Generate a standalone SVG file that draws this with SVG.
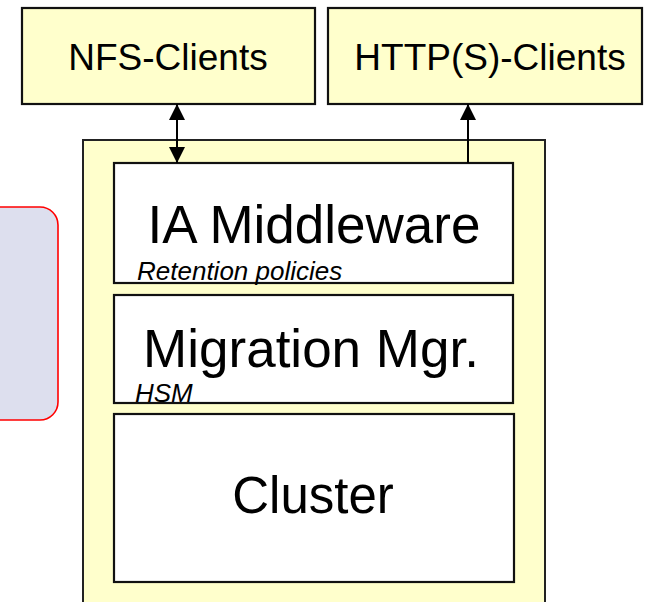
<svg xmlns="http://www.w3.org/2000/svg" width="646" height="602" viewBox="0 0 646 602">
<style>
.client{fill:#FFFFCC;stroke:#111;stroke-width:2.2}
.layer{fill:#FFFFFF;stroke:#111;stroke-width:2.2}
.cont{fill:#FFFFCC;stroke:#222;stroke-width:2}
.t{font-family:"Liberation Sans",Arial,sans-serif;fill:#000}
.sub{font-family:"Liberation Sans",Arial,sans-serif;font-style:italic;font-size:26px;fill:#000}
.conn{stroke:#000;stroke-width:2;fill:none}
</style>
<defs>
<marker id="ah" viewBox="0 0 10 10" refX="10" refY="5" markerWidth="8" markerHeight="8" markerUnits="strokeWidth" orient="auto-start-reverse">
<path d="M0,0 L10,5 L0,10 Z" fill="#000"/>
</marker>
</defs>
<rect width="646" height="602" fill="#FFFFFF"/>
<g id="side-panel">
<rect x="-20" y="207" width="78" height="213" rx="18" ry="18" fill="#DDDFEE" stroke="#FF0000" stroke-width="1.6"/>
</g>
<g id="nfs-clients">
<rect class="client" x="22" y="8" width="293" height="96"/>
<text class="t" x="168" y="70" font-size="37" text-anchor="middle">NFS-Clients</text>
</g>
<g id="http-clients">
<rect class="client" x="328" y="8" width="314" height="96"/>
<text class="t" x="490" y="70" font-size="37" text-anchor="middle">HTTP(S)-Clients</text>
</g>
<g id="container">
<rect class="cont" x="83" y="140" width="462" height="470"/>
</g>
<g id="ia-middleware">
<rect class="layer" x="114" y="163" width="399" height="120"/>
<text class="t" x="314" y="243" font-size="53" text-anchor="middle">IA Middleware</text>
<text class="sub" x="137" y="280">Retention policies</text>
</g>
<g id="migration-mgr">
<rect class="layer" x="114" y="295" width="399" height="108"/>
<text class="t" x="311" y="367" font-size="53" text-anchor="middle">Migration Mgr.</text>
<text class="sub" x="135" y="402">HSM</text>
</g>
<g id="cluster">
<rect class="layer" x="114" y="414" width="400" height="168"/>
<text class="t" x="313" y="513" font-size="51" text-anchor="middle">Cluster</text>
</g>
<g id="connectors">
<line class="conn" x1="177" y1="104" x2="177" y2="163" marker-start="url(#ah)" marker-end="url(#ah)"/>
<line class="conn" x1="468" y1="163" x2="468" y2="104" marker-end="url(#ah)"/>
</g>
</svg>
